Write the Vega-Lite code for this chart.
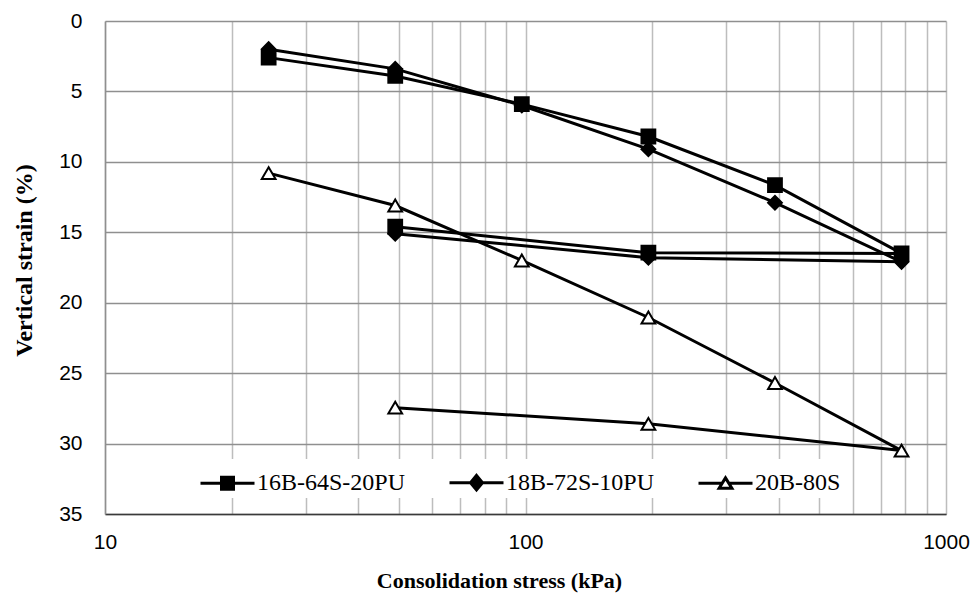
{
  "$schema": "https://vega.github.io/schema/vega-lite/v6.json",
  "width": 841,
  "height": 493,
  "autosize": {"type": "none"},
  "padding": {"left": 105, "top": 21, "right": 30, "bottom": 83},
  "background": "white",
  "config": {
    "view": {"stroke": null},
    "axis": {
      "labelFont": "Liberation Sans",
      "labelFontSize": 21,
      "labelColor": "#000000",
      "titleFont": "Liberation Serif",
      "titleFontSize": 22,
      "titleFontWeight": "bold",
      "titleColor": "#000000",
      "ticks": false
    }
  },
  "data": {
    "values": [
      {"series": "16B-64S-20PU", "seq": 1, "stress": 24.5, "strain": 2.6},
      {"series": "16B-64S-20PU", "seq": 2, "stress": 49, "strain": 3.9},
      {"series": "16B-64S-20PU", "seq": 3, "stress": 98, "strain": 5.9},
      {"series": "16B-64S-20PU", "seq": 4, "stress": 196, "strain": 8.2},
      {"series": "16B-64S-20PU", "seq": 5, "stress": 392, "strain": 11.65},
      {"series": "16B-64S-20PU", "seq": 6, "stress": 784, "strain": 16.5},
      {"series": "16B-64S-20PU", "seq": 7, "stress": 196, "strain": 16.45},
      {"series": "16B-64S-20PU", "seq": 8, "stress": 49, "strain": 14.6},
      {"series": "18B-72S-10PU", "seq": 1, "stress": 24.5, "strain": 2.0},
      {"series": "18B-72S-10PU", "seq": 2, "stress": 49, "strain": 3.4},
      {"series": "18B-72S-10PU", "seq": 3, "stress": 98, "strain": 6.0},
      {"series": "18B-72S-10PU", "seq": 4, "stress": 196, "strain": 9.1},
      {"series": "18B-72S-10PU", "seq": 5, "stress": 392, "strain": 12.9},
      {"series": "18B-72S-10PU", "seq": 6, "stress": 784, "strain": 17.1},
      {"series": "18B-72S-10PU", "seq": 7, "stress": 196, "strain": 16.8},
      {"series": "18B-72S-10PU", "seq": 8, "stress": 49, "strain": 15.1},
      {"series": "20B-80S", "seq": 1, "stress": 24.5, "strain": 10.8},
      {"series": "20B-80S", "seq": 2, "stress": 49, "strain": 13.1},
      {"series": "20B-80S", "seq": 3, "stress": 98, "strain": 17.0},
      {"series": "20B-80S", "seq": 4, "stress": 196, "strain": 21.05},
      {"series": "20B-80S", "seq": 5, "stress": 392, "strain": 25.7},
      {"series": "20B-80S", "seq": 6, "stress": 784, "strain": 30.5},
      {"series": "20B-80S", "seq": 7, "stress": 196, "strain": 28.6},
      {"series": "20B-80S", "seq": 8, "stress": 49, "strain": 27.45}
    ]
  },
  "encoding": {
    "x": {
      "field": "stress",
      "type": "quantitative",
      "scale": {"type": "log", "domain": [10, 1000], "nice": false},
      "axis": {
        "title": "Consolidation stress (kPa)",
        "values": [10, 20, 30, 40, 50, 60, 70, 80, 90, 100, 200, 300, 400, 500, 600, 700, 800, 900, 1000],
        "labelExpr": "(datum.value == 10 || datum.value == 100 || datum.value == 1000) ? datum.value : ''",
        "grid": true,
        "gridColor": "#bdbdbd",
        "gridWidth": 1.5,
        "domainColor": "#3a3a3a",
        "domainWidth": 1.5,
        "labelPadding": 17,
        "labelFlush": false,
        "labelOverlap": false,
        "titleX": 394,
        "titleY": 66,
        "titleAnchor": null,
        "titleAlign": "center",
        "titleBaseline": "middle"
      }
    },
    "y": {
      "field": "strain",
      "type": "quantitative",
      "scale": {"domain": [0, 35], "reverse": true, "nice": false},
      "axis": {
        "title": "Vertical strain (%)",
        "values": [0, 5, 10, 15, 20, 25, 30, 35],
        "grid": true,
        "gridColor": "#8f8f8f",
        "gridWidth": 1.5,
        "domainColor": "#8f8f8f",
        "domainWidth": 1.5,
        "labelPadding": 23,
        "labelFlush": false,
        "titleFontSize": 24,
        "titleX": -81,
        "titleY": 239,
        "titleAngle": -90,
        "titleAlign": "center",
        "titleBaseline": "middle"
      }
    }
  },
  "layer": [
    {
      "mark": {"type": "line", "color": "#000000", "strokeWidth": 3},
      "encoding": {
        "detail": {"field": "series"},
        "order": {"field": "seq", "type": "quantitative"}
      }
    },
    {
      "mark": {"type": "point", "filled": false, "stroke": "#000000", "strokeWidth": 2, "opacity": 1},
      "encoding": {
        "shape": {
          "field": "series",
          "type": "nominal",
          "scale": {"domain": ["16B-64S-20PU", "18B-72S-10PU", "20B-80S"], "range": ["square", "diamond", "triangle-up"]},
          "legend": null
        },
        "fill": {
          "field": "series",
          "type": "nominal",
          "scale": {"domain": ["16B-64S-20PU", "18B-72S-10PU", "20B-80S"], "range": ["#000000", "#000000", "#ffffff"]},
          "legend": null
        },
        "size": {"value": 190}
      }
    },
    {
      "transform": [{"filter": "false"}],
      "mark": {"type": "point", "filled": false, "stroke": "#000000", "strokeWidth": 3, "opacity": 1},
      "encoding": {
        "shape": {
          "field": "series",
          "type": "nominal",
          "scale": {
            "domain": ["16B-64S-20PU", "18B-72S-10PU", "20B-80S"],
            "range": [
              "M-1.35,0H1.35M-0.3,-0.3H0.3V0.3H-0.3Z",
              "M-1.35,0H1.35M0,-0.36L0.3,0L0,0.36L-0.3,0Z",
              "M-1.35,0H-0.17M0.17,0H1.35M0,-0.27L0.32,0.25H-0.32ZM0,-0.27L-0.32,0.25H0.32Z"
            ]
          },
          "legend": {
            "title": null,
            "orient": "none",
            "direction": "horizontal",
            "legendX": 99,
            "legendY": 438,
            "padding": 2,
            "fillColor": "#ffffff",
            "columnPadding": 37,
            "labelFont": "Liberation Serif",
            "labelFontSize": 24,
            "labelColor": "#000000",
            "labelOffset": 8,
            "symbolSize": 1600,
            "symbolStrokeWidth": 3,
            "encode": {
              "symbols": {
                "update": {
                  "fillOpacity": {"value": 1},
                  "stroke": {"value": "#000000"},
                  "strokeOpacity": {"value": 1},
                  "strokeWidth": {"value": 3},
                  "opacity": {"value": 1}
                }
              }
            }
          }
        },
        "fill": {
          "field": "series",
          "type": "nominal",
          "scale": {"domain": ["16B-64S-20PU", "18B-72S-10PU", "20B-80S"], "range": ["#000000", "#000000", "#ffffff"]},
          "legend": null
        },
        "size": {"value": 1600}
      }
    }
  ],
  "resolve": {"scale": {"shape": "independent"}}
}
